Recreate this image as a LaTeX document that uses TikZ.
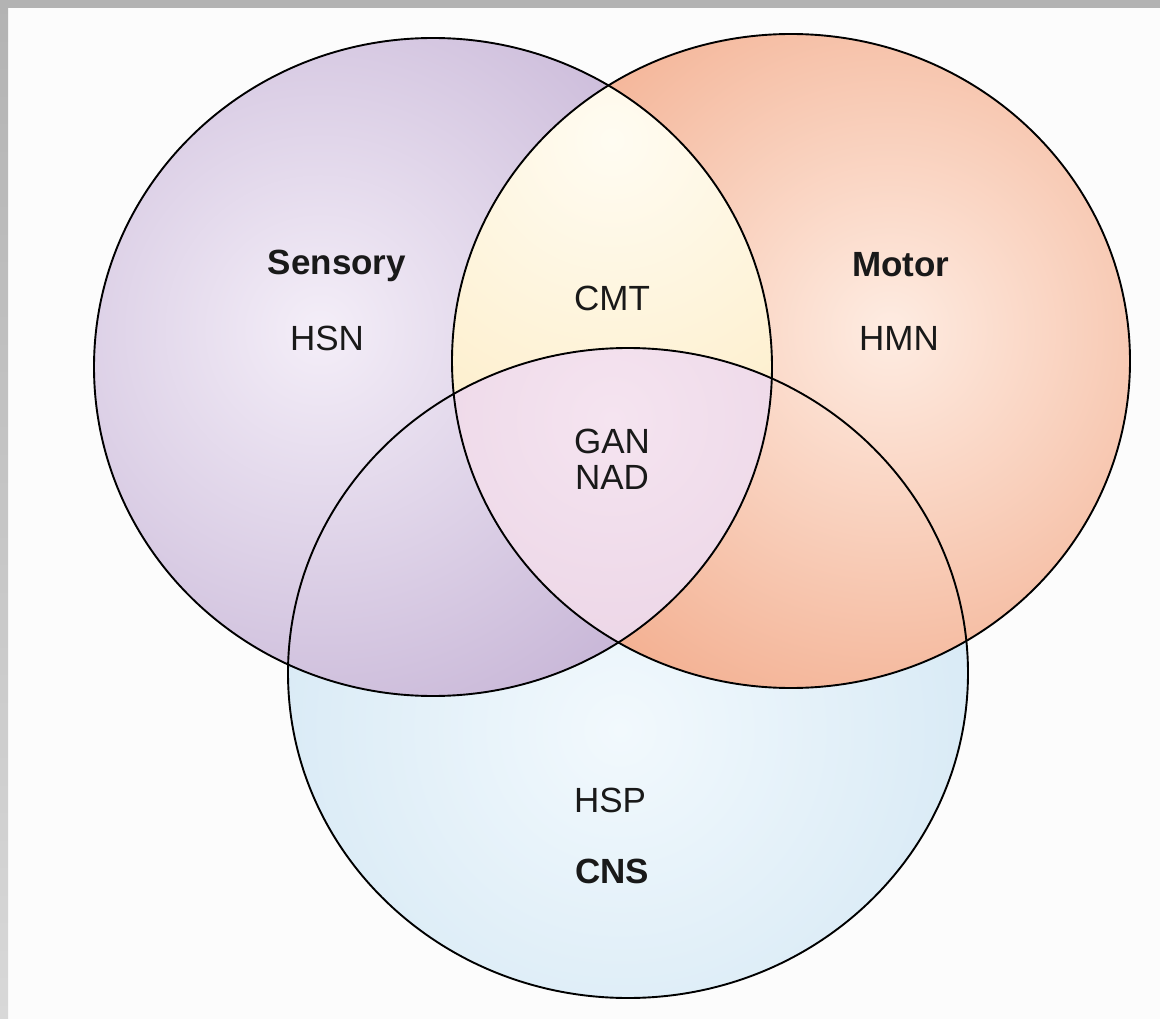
\documentclass[tikz,border=0pt]{standalone}
\usepackage{fontspec}
\setmainfont{Liberation Sans}
\definecolor{sensIn}{RGB}{244,238,248}
\definecolor{sensOut}{RGB}{182,160,202}
\definecolor{motIn}{RGB}{254,236,226}
\definecolor{motOut}{RGB}{238,148,108}
\definecolor{cnsIn}{RGB}{242,249,253}
\definecolor{cnsOut}{RGB}{194,221,239}
\definecolor{smIn}{RGB}{255,252,242}
\definecolor{smOut}{RGB}{252,230,180}
\definecolor{allIn}{RGB}{245,228,240}
\definecolor{allOut}{RGB}{226,198,220}
\definecolor{frameTop}{RGB}{179,179,179}
\definecolor{frameBot}{RGB}{216,216,216}
\definecolor{inkCol}{RGB}{25,25,25}
\pgfdeclareradialshading{sensSh}{\pgfpoint{0bp}{0bp}}{color(0bp)=(sensIn); color(25bp)=(sensOut); color(50bp)=(sensOut)}
\pgfdeclareradialshading{motSh}{\pgfpoint{0bp}{0bp}}{color(0bp)=(motIn); color(25bp)=(motOut); color(50bp)=(motOut)}
\pgfdeclareradialshading{cnsSh}{\pgfpoint{0bp}{0bp}}{color(0bp)=(cnsIn); color(25bp)=(cnsOut); color(50bp)=(cnsOut)}
\pgfdeclareradialshading{smSh}{\pgfpoint{0bp}{0bp}}{color(0bp)=(smIn); color(25bp)=(smOut); color(50bp)=(smOut)}
\pgfdeclareradialshading{allSh}{\pgfpoint{0bp}{0bp}}{color(0bp)=(allIn); color(25bp)=(allOut); color(50bp)=(allOut)}
\tikzset{
  lab/.style={anchor=base, inner sep=0pt, text height=25pt, text depth=0pt, text=inkCol, font=\fontsize{35}{40}\selectfont},
  labB/.style={lab, font=\fontsize{35}{40}\selectfont\bfseries},
  rim/.style={draw=black, line width=1.9pt}
}
\begin{document}
\begin{tikzpicture}[x=1pt,y=-1pt]
\useasboundingbox (0,0) rectangle (1160,1019);
\fill[white!99!black] (0,0) rectangle (1160,1019);
\fill[frameTop] (0,0) rectangle (1160,8);
\shade[top color=frameTop, bottom color=frameBot] (0,0) rectangle (8,1019);
% regions
\def\sensPath{(433,367) ellipse [x radius=339pt, y radius=329pt]}
\def\motPath{(791,361) ellipse [x radius=339pt, y radius=327pt]}
\def\cnsPath{(628,673) ellipse [x radius=340pt, y radius=325pt]}
\begin{scope}
  \clip \cnsPath;
  \shade[shading=cnsSh] (620,730) circle [radius=680pt];
\end{scope}
\begin{scope}
  \clip \sensPath;
  \shade[shading=sensSh] (320,330) circle [radius=620pt];
\end{scope}
\begin{scope}
  \clip \motPath;
  \shade[shading=motSh] (890,330) circle [radius=620pt];
\end{scope}
\begin{scope}
  \clip \sensPath;
  \clip \motPath;
  \shade[shading=smSh] (612,140) circle [radius=520pt];
\end{scope}
\begin{scope}
  \clip \sensPath;
  \clip \motPath;
  \clip \cnsPath;
  \shade[shading=allSh] (612,420) circle [radius=520pt];
\end{scope}
\draw[rim] \cnsPath;
\draw[rim] \sensPath;
\draw[rim] \motPath;
% labels
\node[labB] (sensory) at (337,275) {Sensory};
\node[lab] (hsn) at (327,350) {HSN};
\node[labB] (motor) at (901,277) {Motor};
\node[lab] (hmn) at (899,350) {HMN};
\node[lab] (cmt) at (612,310) {CMT};
\node[lab] (gan) at (612,453) {GAN};
\node[lab] (nad) at (612,489) {NAD};
\node[lab] (hsp) at (610,812) {HSP};
\node[labB] (cns) at (612,883) {CNS};
\end{tikzpicture}
\end{document}
